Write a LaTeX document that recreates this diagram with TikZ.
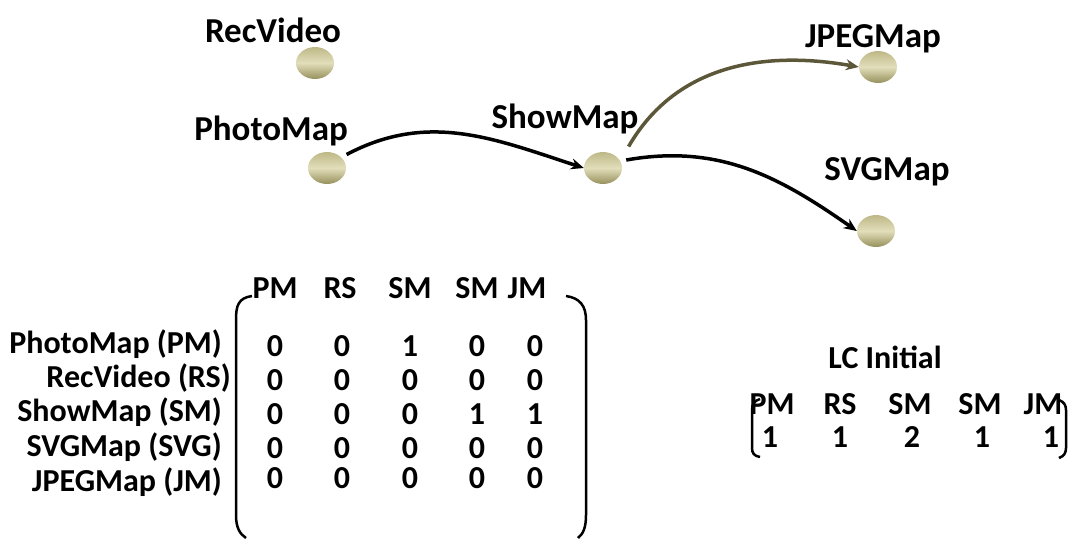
\documentclass[tikz,border=0pt]{standalone}
\usepackage{fontspec}
\setmainfont{Carlito}
\usetikzlibrary{arrows.meta,shapes.geometric}
\definecolor{olivedark}{RGB}{150,144,92}
\definecolor{olivelight}{RGB}{226,222,186}
\definecolor{olivemid}{RGB}{190,184,135}
\definecolor{arrowolive}{RGB}{92,87,56}
\tikzset{
  ball/.style={ellipse,minimum width=38pt,minimum height=32pt,inner sep=0pt,
    top color=olivemid,bottom color=olivedark,middle color=olivelight,shading angle=0},
  lbl/.style={font=\fontsize{35}{37}\selectfont\bfseries,inner sep=0pt},
  mtx/.style={font=\fontsize{32}{34}\selectfont\bfseries,inner sep=0pt},
  conn/.style={line width=3.5pt,-{Stealth[length=13pt,width=11pt]}},
  paren/.style={line width=2.5pt}
}
\begin{document}
\begin{tikzpicture}[x=1pt,y=-1pt]
\useasboundingbox (0,0) rectangle (1070,538);
% balls
\node[ball] (rv) at (315,63) {};
\node[ball] (pm) at (327,168) {};
\node[ball] (sm) at (603,168) {};
\node[ball] (jm) at (878,67) {};
\node[ball] (sv) at (876,231) {};
% labels
\node[lbl] (rvl) at (273,30) {RecVideo};
\node[lbl] (pml) at (271,131) {PhotoMap};
\node[lbl] (sml) at (565,119) {ShowMap};
\node[lbl] (jml) at (873,39) {JPEGMap};
\node[lbl] (svl) at (887,172) {SVGMap};
% connectors
\coordinate (pmo) at ([xshift=6pt,yshift=2pt]pm.north east);
\coordinate (smj) at ([xshift=12pt,yshift=10pt]sm.north east);
\coordinate (smo) at ([xshift=4pt,yshift=8pt]sm.east);
\draw[conn,black] (pmo) to[out=28,in=162] (sm.west);
\draw[conn,arrowolive] (smj) to[out=60,in=170] (jm.west);
\draw[conn,black] (smo) to[out=10,in=145] (sv.west);
% matrix headers
\foreach \t/\x [count=\i] in {PM/275,RS/340,SM/410,SM/477,JM/527}
  \node[mtx] (h\i) at (\x,288) {\t};
% row labels
\node[mtx,anchor=east] (r1) at (222,344) {PhotoMap (PM)};
\node[mtx,anchor=east] (r2) at (231,378) {RecVideo (RS)};
\node[mtx,anchor=east] (r3) at (222,412) {ShowMap (SM)};
\node[mtx,anchor=east] (r4) at (222,447) {SVGMap (SVG)};
\node[mtx,anchor=east] (r5) at (222,482) {JPEGMap (JM)};
% values
\foreach \v/\x [count=\c] in {0/275,0/342,1/410,0/477,0/535} \node[mtx] (a1\c) at (\x,346) {\v};
\foreach \v/\x [count=\c] in {0/275,0/342,0/410,0/477,0/535} \node[mtx] (a2\c) at (\x,380) {\v};
\foreach \v/\x [count=\c] in {0/275,0/342,0/410,1/477,1/535} \node[mtx] (a3\c) at (\x,414) {\v};
\foreach \v/\x [count=\c] in {0/275,0/342,0/410,0/477,0/535} \node[mtx] (a4\c) at (\x,448) {\v};
\foreach \v/\x [count=\c] in {0/275,0/342,0/410,0/477,0/535} \node[mtx] (a5\c) at (\x,478) {\v};
% matrix parens
\draw[paren] (252,296) .. controls (238,298) and (236,306) .. (236,320) -- (236,515) .. controls (236,528) and (240,534) .. (246,538);
\draw[paren] (566,296) .. controls (580,298) and (586,306) .. (586,320) -- (586,515) .. controls (586,528) and (583,534) .. (578,538);
% LC initial
\node[mtx] (lc) at (885,357) {LC Initial};
\foreach \t/\x [count=\i] in {PM/772,RS/840,SM/910,SM/980,JM/1043}
  \node[mtx] (lh\i) at (\x,404) {\t};
\foreach \t/\x [count=\i] in {1/770,1/840,2/912,1/982,1/1051}
  \node[mtx] (lv\i) at (\x,437) {\t};
\draw[paren] (760,399) .. controls (754,401) and (752,404) .. (752,410) -- (752,448) .. controls (752,453) and (754,456) .. (760,457);
\draw[paren] (1059,400) .. controls (1064,402) and (1066,405) .. (1066,410) -- (1066,448) .. controls (1066,453) and (1064,456) .. (1059,458);
\end{tikzpicture}
\end{document}
